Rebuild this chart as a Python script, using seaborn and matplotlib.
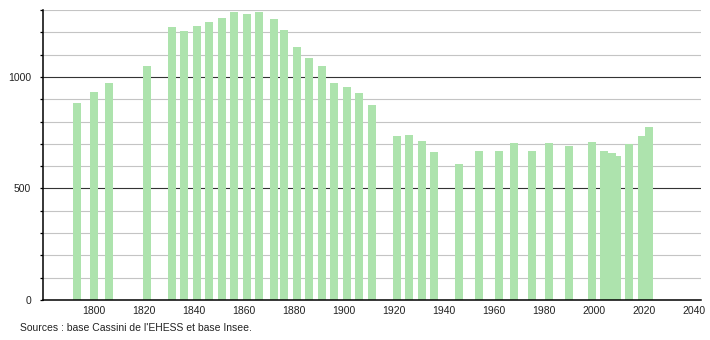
import matplotlib
matplotlib.use("Agg")
import matplotlib.pyplot as plt
from matplotlib.ticker import MultipleLocator, FixedLocator
import seaborn as sns
import pandas as pd

years = [1793, 1800, 1806, 1821, 1831, 1836, 1841, 1846, 1851, 1856,
         1861, 1866, 1872, 1876, 1881, 1886, 1891, 1896, 1901, 1906,
         1911, 1921, 1926, 1931, 1936, 1946, 1954, 1962, 1968, 1975,
         1982, 1990, 1999, 2004, 2007, 2009, 2014, 2019, 2022]
population = [883, 931, 973, 1051, 1225, 1207, 1228, 1245, 1263, 1289,
              1280, 1292, 1258, 1209, 1135, 1083, 1051, 974, 956, 930,
              876, 733, 740, 714, 662, 611, 666, 670, 704, 668,
              705, 692, 710, 670, 657, 644, 700, 736, 777]
x_ticks = [1800, 1820, 1840, 1860, 1880, 1900, 1920, 1940, 1960, 1980, 2000, 2020, 2040]
y_major = [0, 500, 1000]
source_text = "Sources : base Cassini de l'EHESS et base Insee."

df = pd.DataFrame({"year": years, "population": population})

sns.set_theme(style="white")
plt.rcParams["font.family"] = ["Liberation Sans", "DejaVu Sans"]

fig = plt.figure(figsize=(7.1, 3.4), dpi=100)
ax = fig.add_axes([43.3 / 710, 1 - 300 / 340, (701 - 43.3) / 710, 290 / 340])

bar_color = "#ade3ad"
sns.barplot(data=df, x="year", y="population", native_scale=True, width=1.55,
            color=bar_color, saturation=1, errorbar=None, ax=ax, zorder=3,
            edgecolor="none", linewidth=0)

ax.set_xlim(1779.6, 2042.7)
ax.set_ylim(0, 1300)

ax.xaxis.set_major_locator(FixedLocator(x_ticks))
ax.set_xticklabels([str(t) for t in x_ticks])
ax.yaxis.set_major_locator(FixedLocator(y_major))
ax.set_yticklabels([str(t) for t in y_major])
ax.yaxis.set_minor_locator(MultipleLocator(100))

ax.grid(False)
for v in range(100, 1301, 100):
    if v in (500, 1000):
        ax.axhline(v, color="#333333", linewidth=0.8, zorder=1)
    else:
        ax.axhline(v, color="#c4c4c4", linewidth=0.8, zorder=1)

for s in ("top", "right"):
    ax.spines[s].set_visible(False)
for s in ("left", "bottom"):
    ax.spines[s].set_color("black")
    ax.spines[s].set_linewidth(1.1)
    ax.spines[s].set_zorder(4)

ax.tick_params(axis="x", which="both", length=0, pad=4, labelsize=7.5, colors="#222222")
ax.tick_params(axis="y", which="major", length=2.2, width=0.9, pad=6.5, labelsize=7.5,
               colors="#222222", left=True)
ax.tick_params(axis="y", which="minor", length=2.2, width=0.9, left=True)
ax.tick_params(axis="y", which="both", color="black")

ax.set_xlabel("")
ax.set_ylabel("")

fig.text(20 / 710, 1 - 328 / 340, source_text, fontsize=7.5, color="#222222",
         ha="left", va="center")

fig.savefig("out.png", dpi=100)
